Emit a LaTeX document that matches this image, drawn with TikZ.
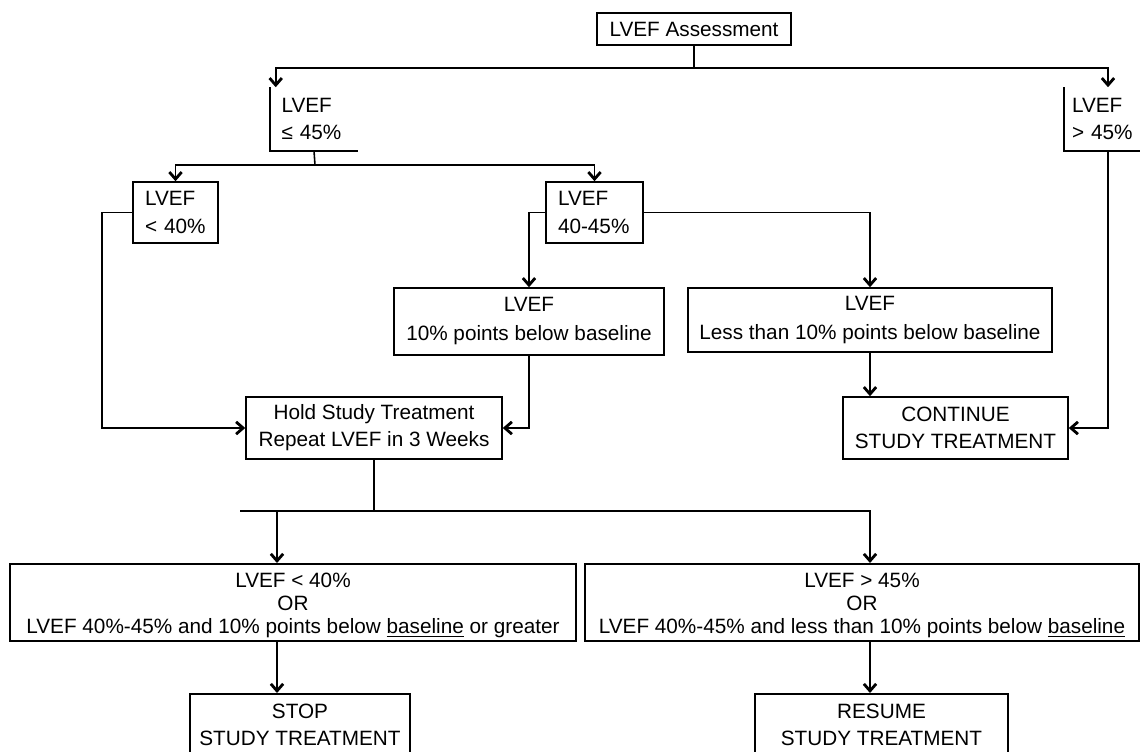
\documentclass[tikz,border=0pt]{standalone}
\usepackage{fontspec}
\setmainfont{Liberation Sans}
\usetikzlibrary{arrows.meta}
\begin{document}
\begin{tikzpicture}[x=0.02cm, y=-0.02cm, line width=0.9pt, font=\fontsize{11.8}{15.5}\selectfont,
  box/.style = {draw, align=center, inner sep=0pt},
  side/.style = {align=left, inner ysep=0pt},
  arr/.style = {-{Straight Barb[length=4pt,width=7pt,line width=1.6pt]}}]
  \useasboundingbox (0,0) rectangle (1140,751);
  \node[box, minimum width=3.88cm, minimum height=0.64cm] (assess) at (694,29) {LVEF Assessment};
  \node[side, minimum width=1.68cm, minimum height=1.24cm, inner xsep=0.22cm, text width=1.3cm] (le45) at (314,119) {LVEF\\ ≤ 45\%};
  \node[side, minimum width=1.72cm, minimum height=1.24cm, inner xsep=0.14cm, text width=1.44cm] (gt45) at (1108,119) {LVEF\\ > 45\%};
  \node[box, side, minimum width=1.7cm, minimum height=1.22cm, inner xsep=0.24cm, text width=1.22cm] (lt40) at (175.5,212.5) {LVEF\\ < 40\%};
  \node[box, side, minimum width=1.94cm, minimum height=1.22cm, inner xsep=0.24cm, text width=1.46cm] (mid) at (594.5,212.5) {LVEF\\ \mbox{40-45\%}};
  \node[box, minimum width=5.4cm, minimum height=1.34cm, font=\fontsize{11.8}{16.5}\selectfont] (ten) at (529,321.5) {LVEF\\ 10\% points below baseline};
  \node[box, minimum width=7.28cm, minimum height=1.28cm, font=\fontsize{11.8}{16}\selectfont] (less) at (870,320) {LVEF\\ Less than 10\% points below baseline};
  \node[box, minimum width=5.12cm, minimum height=1.24cm] (hold) at (374,428) {Hold Study Treatment\\ Repeat LVEF in 3 Weeks};
  \node[box, minimum width=4.5cm, minimum height=1.24cm] (cont) at (955.5,428) {CONTINUE\\ STUDY TREATMENT};
  \node[box, anchor=north, minimum width=11.32cm, minimum height=1.54cm, font=\fontsize{11.8}{13}\selectfont] (stopcrit) at (293,563) {\rule{0pt}{12pt}LVEF < 40\%\\ OR\\ LVEF 40\%-45\% and 10\% points below \underline{baseline} or greater};
  \node[box, anchor=north, minimum width=11.08cm, minimum height=1.54cm, font=\fontsize{11.8}{13}\selectfont] (resumecrit) at (862,563) {\rule{0pt}{12pt}LVEF > 45\%\\ OR\\ LVEF 40\%-45\% and less than 10\% points below \underline{baseline}};
  \node[box, anchor=north, minimum width=4.4cm, inner ysep=0.2cm] (stop) at (300,693) {STOP\\ STUDY TREATMENT};
  \node[box, anchor=north, minimum width=5.06cm, inner ysep=0.2cm] (resume) at (881.5,693) {RESUME\\ STUDY TREATMENT};
  \draw (le45.north west) |- (le45.south east);
  \draw (gt45.north west) |- (gt45.south east);
  \coordinate (top) at (694,68);
  \coordinate (split) at (315,165);
  \coordinate (merge) at (374,511);
  \coordinate (tail) at (240,511);
  \coordinate (lcol) at (277,0);
  \coordinate (rcol) at (870,0);
  \draw (assess) -- (top);
  \draw[arr] (top) -| ([xshift=0.12cm]le45.north west);
  \draw[arr] (top) -| (gt45.north);
  \draw (le45.south) -- (split);
  \draw[arr] (split) -| (lt40.north);
  \draw[arr] (split) -| (mid.north);
  \draw[arr] (lt40.west) -- ++(-30,0) |- (hold.west);
  \draw[arr] (mid.west) -| (ten.north);
  \draw[arr] (mid.east) -| (less.north);
  \draw[arr] (ten.south) |- (hold.east);
  \draw[arr] (less.south) -- (cont.north -| less.south);
  \draw[arr] (gt45.south) |- (cont.east);
  \draw (hold.south) -- (merge);
  \draw (tail) -- (merge);
  \draw[arr] (merge) -| (stopcrit.north -| lcol);
  \draw[arr] (merge) -| (resumecrit.north -| rcol);
  \draw[arr] (stopcrit.south -| lcol) -- (stop.north -| lcol);
  \draw[arr] (resumecrit.south -| rcol) -- (resume.north -| rcol);
\end{tikzpicture}
\end{document}
